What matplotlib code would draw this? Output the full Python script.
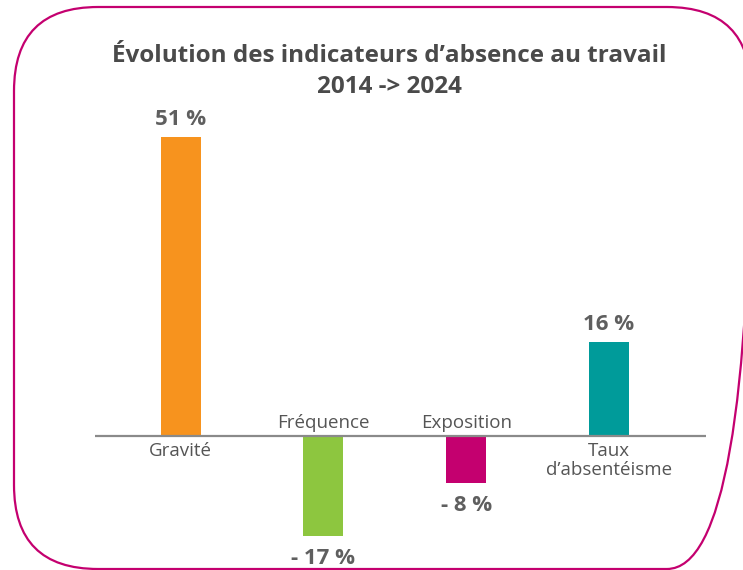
import matplotlib
matplotlib.use("Agg")
import matplotlib.pyplot as plt
from matplotlib.patches import FancyBboxPatch

plt.rcParams['font.family'] = ['Open Sans', 'DejaVu Sans']

# ---- data ----
title_lines = ["Évolution des indicateurs d’absence au travail", "2014 -> 2024"]
categories = ["Gravité", "Fréquence", "Exposition", "Taux\nd’absentéisme"]
values = [51, -17, -8, 16]
colors = ["#F7931E", "#8DC63F", "#C4006F", "#009B9A"]

W, H = 743, 570
fig = plt.figure(figsize=(W / 100, H / 100), dpi=100)
fig.patch.set_facecolor("white")

# background / frame axes in pixel units
bg = fig.add_axes([0, 0, 1, 1])
bg.set_xlim(0, W)
bg.set_ylim(H, 0)
bg.axis("off")
frame = FancyBboxPatch((14, 7), 737, 562, boxstyle="round,pad=0,rounding_size=84",
                       facecolor="none", edgecolor="#C4006F", linewidth=1.6)
bg.add_patch(frame)

# main axes
base_y = 436
ppu = 5.87
ymax, ymin = 55, -22
top_px = base_y - ymax * ppu
bot_px = base_y - ymin * ppu
ax = fig.add_axes([95 / W, (H - bot_px) / H, (706 - 95) / W, (bot_px - top_px) / H])
ax.set_xlim(-0.6, 3.68)
ax.set_ylim(ymin, ymax)
ax.axis("off")
ax.patch.set_alpha(0)

x = list(range(len(values)))
ax.bar(x, values, width=0.28, color=colors, zorder=2)
ax.axhline(0, color="#8a8a8a", linewidth=1.6, zorder=3)

def fmt(v):
    return f"- {abs(v)} %" if v < 0 else f"{v} %"

val_kw = dict(ha="center", fontsize=16, fontweight="bold", color="#5f5f5f")
cat_kw = dict(ha="center", fontsize=13.5, color="#555555")
for xi, v, c in zip(x, values, categories):
    if v >= 0:
        ax.annotate(fmt(v), (xi, v), xytext=(0, 5), textcoords="offset points",
                    va="bottom", **val_kw)
        ax.annotate(c, (xi, 0), xytext=(0, -4), textcoords="offset points",
                    va="top", linespacing=1.1, **cat_kw)
    else:
        ax.annotate(fmt(v), (xi, v), xytext=(0, -9), textcoords="offset points",
                    va="top", **val_kw)
        ax.annotate(c, (xi, 0), xytext=(0, 3), textcoords="offset points",
                    va="bottom", **cat_kw)

fig.text(389 / W, 1 - 44 / H, "\n".join(title_lines), ha="center", va="top",
         fontsize=17.5, fontweight="bold", color="#4a4a4a", linespacing=1.38)

fig.savefig("out.png", dpi=100)
